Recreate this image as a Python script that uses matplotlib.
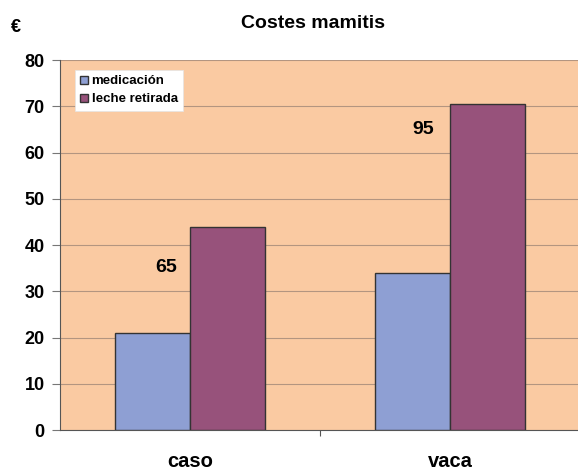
import matplotlib
matplotlib.use("Agg")
import matplotlib.pyplot as plt
import numpy as np
from matplotlib.patches import Patch

plt.rcParams["font.family"] = ["Liberation Sans", "DejaVu Sans"]

categories = ["caso", "vaca"]
medicacion = [21, 34]
leche_retirada = [44, 70.5]
totals = ["65", "95"]
yticks = [0, 10, 20, 30, 40, 50, 60, 70, 80]

bg = "#FACAA2"
c_med = "#8E9FD3"
c_leche = "#97527B"

fig = plt.figure(figsize=(5.78, 4.70), dpi=100)
ax = fig.add_axes([0.1038, 0.0851, 0.8962, 0.7872])
ax.set_facecolor(bg)

x = np.arange(len(categories))
w = 0.29
ax.bar(x - w/2, medicacion, w, color=c_med, edgecolor="#333333", linewidth=1.0, zorder=3)
ax.bar(x + w/2, leche_retirada, w, color=c_leche, edgecolor="#333333", linewidth=1.0, zorder=3)

ax.set_xlim(-0.5, 1.492)
ax.set_ylim(0, 80)
ax.set_yticks(yticks)
ax.set_yticklabels([str(t) for t in yticks], fontsize=13, fontweight="bold")
ax.yaxis.grid(True, color="#B39580", linewidth=0.8, zorder=0)
ax.set_axisbelow(True)

ax.set_xticks([0.5])
ax.set_xticklabels([""])
ax.tick_params(axis="x", length=4, color="#555555")
ax.tick_params(axis="y", length=6, color="#777777", pad=5)
for i, c in enumerate(categories):
    ax.text(x[i], -6.9, c, ha="center", va="center", fontsize=14.5, fontweight="bold")

for s in ["top", "right"]:
    ax.spines[s].set_visible(False)
ax.spines["left"].set_color("#555555")
ax.spines["bottom"].set_color("#555555")

# total labels
ax.text(-0.09, 35.2, totals[0], ha="center", va="center", fontsize=14, fontweight="bold", zorder=4)
ax.text(0.896, 65.0, totals[1], ha="center", va="center", fontsize=14, fontweight="bold", zorder=4)

handles = [Patch(facecolor=c_med, edgecolor="#333333"), Patch(facecolor=c_leche, edgecolor="#333333")]
leg = ax.legend(handles, ["medicación", "leche retirada"], loc="upper left",
                bbox_to_anchor=(0.029, 0.973), prop={"weight": "bold", "size": 9.5},
                handlelength=0.55, handleheight=0.55, handletextpad=0.3, labelspacing=0.45,
                borderpad=0.4, fancybox=False, framealpha=1, edgecolor="#E5E5E5",
                borderaxespad=0)
leg.get_frame().set_linewidth(0.5)

fig.text(313/578, 1 - 23/470, "Costes mamitis", ha="center", va="center", fontsize=14, fontweight="bold")
fig.text(16/578, 1 - 28/470, "€", ha="center", va="center", fontsize=13, fontweight="bold")

fig.savefig("out.png", dpi=100)
